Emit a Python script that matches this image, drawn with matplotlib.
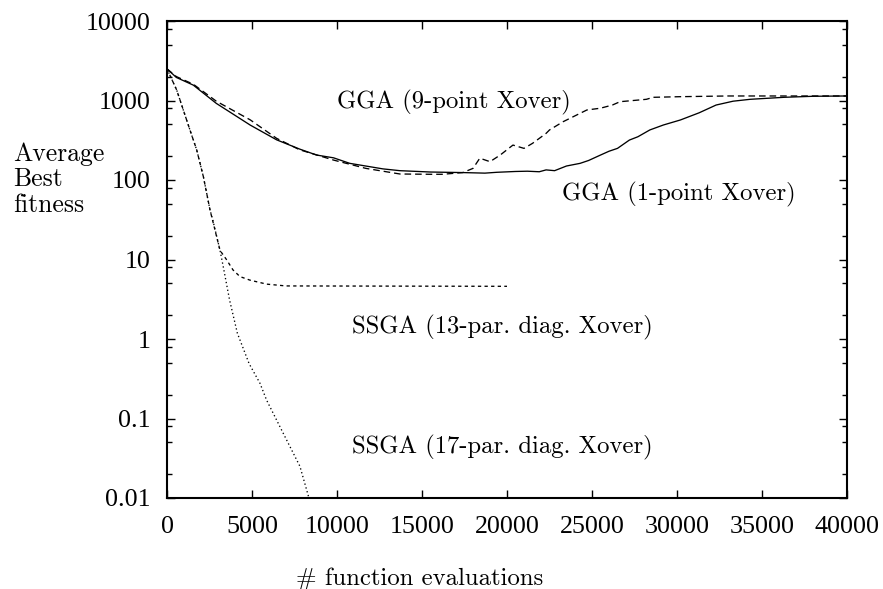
import matplotlib
matplotlib.use('Agg')
import matplotlib.pyplot as plt
import matplotlib.ticker as mticker

# GGA, 1-point crossover (solid)
gga1_x = [0, 550, 1550, 2900, 4900, 6450, 7800, 8800, 9800, 10750, 12700, 13700,
          15500, 17400, 18700, 19400, 20500, 21200, 21900, 22300, 22800, 23500,
          24300, 24800, 25500, 26000, 26500, 27200, 27700, 28400, 29200, 30200,
          31300, 32300, 33300, 34300, 36300, 38000, 40000]
gga1_y = [2500, 1950, 1560, 920, 490, 320, 245, 206, 190, 162, 138, 131,
          126, 124, 122, 125, 128, 129, 127, 134, 131, 150,
          162, 176, 206, 230, 250, 318, 350, 426, 492, 569,
          700, 877, 980, 1035, 1097, 1130, 1140]

# GGA, 9-point crossover (dashed)
gga9_x = [0, 550, 1550, 2900, 4900, 6450, 7800, 9800, 11700, 13700, 15500,
          16200, 17400, 18000, 18400, 19000, 19600, 20350, 21000, 21500,
          22300, 22500, 23300, 24300, 24700, 25500, 26200, 26650, 28200,
          28600, 30200, 33000, 40000]
gga9_y = [2500, 2000, 1600, 980, 570, 334, 240, 178, 140, 119, 118,
          118, 124, 140, 188, 170, 206, 275, 250, 289,
          386, 426, 541, 690, 760, 800, 877, 966, 1035,
          1097, 1117, 1140, 1140]

# SSGA, 13-parent diagonal crossover (short dashes)
ssga13_x = [0, 570, 960, 1350, 1750, 2140, 2530, 3120, 3510, 3880, 4290, 4880,
            5860, 7000, 20000]
ssga13_y = [2500, 1355, 758, 426, 238, 110, 42, 13, 9.9, 7.4, 6.1, 5.5,
            4.9, 4.65, 4.6]

# SSGA, 17-parent diagonal crossover (dotted)
ssga17_x = [0, 570, 960, 1350, 1750, 2140, 2530, 2700, 3120, 3310, 3680,
            4140, 4830, 5470, 5860, 6840, 7820, 8350]
ssga17_y = [2500, 1355, 758, 426, 238, 110, 42, 31, 13, 8.1, 3.1,
            1.18, 0.49, 0.277, 0.17, 0.065, 0.025, 0.01]

xticks = [0, 5000, 10000, 15000, 20000, 25000, 30000, 35000, 40000]
yticks = [0.01, 0.1, 1, 10, 100, 1000, 10000]
ytick_labels = ['0.01', '0.1', '1', '10', '100', '1000', '10000']

tick_font = 'Liberation Serif'
cm_font = 'cmr10'
cm_size = 17.8

fig = plt.figure(figsize=(8.83, 5.89), dpi=100)
ax = fig.add_axes([167 / 883, 91 / 589, 680 / 883, 477 / 589])

ax.plot(gga1_x, gga1_y, color='black', lw=0.95, linestyle='-')
ax.plot(gga9_x, gga9_y, color='black', lw=0.95, linestyle=(0, (5, 3)))
ax.plot(ssga13_x, ssga13_y, color='black', lw=0.95, linestyle=(0, (2.5, 2.5)))
ax.plot(ssga17_x, ssga17_y, color='black', lw=0.95, linestyle=(0, (1, 2)))

ax.set_yscale('log')
ax.set_xlim(0, 40000)
ax.set_ylim(0.01, 10000)

ax.xaxis.set_major_locator(mticker.FixedLocator(xticks))
ax.xaxis.set_major_formatter(mticker.FixedFormatter([str(v) for v in xticks]))
ax.yaxis.set_major_locator(mticker.FixedLocator(yticks))
ax.yaxis.set_major_formatter(mticker.FixedFormatter(ytick_labels))
ax.yaxis.set_minor_locator(mticker.LogLocator(base=10, subs=(2, 5, 8)))
ax.yaxis.set_minor_formatter(mticker.NullFormatter())
ax.xaxis.set_minor_locator(mticker.NullLocator())

ax.tick_params(which='both', direction='in', top=True, right=True,
               width=1.0, labelsize=18.7)
ax.tick_params(which='major', length=6)
ax.tick_params(which='minor', length=3.5)
ax.tick_params(axis='x', pad=13)
ax.tick_params(axis='y', pad=12)
for lab in ax.get_xticklabels() + ax.get_yticklabels():
    lab.set_family(tick_font)
for sp in ax.spines.values():
    sp.set_linewidth(1.5)

# curve labels
ax.text(10000, 798, 'GGA (9-point Xover)', family=cm_font, fontsize=cm_size,
        va='baseline', ha='left')
ax.text(23250, 56, 'GGA (1-point Xover)', family=cm_font, fontsize=cm_size,
        va='baseline', ha='left')
ax.text(10860, 1.18, 'SSGA (13-par. diag. Xover)', family=cm_font,
        fontsize=cm_size, va='baseline', ha='left')
ax.text(10860, 0.0365, 'SSGA (17-par. diag. Xover)', family=cm_font,
        fontsize=cm_size, va='baseline', ha='left')

fig.text(13 / 883, 1 - 142 / 589, 'Average\nBest\nfitness', family=cm_font,
         fontsize=18.5, va='top', ha='left', linespacing=1.1)
fig.text(420 / 883, 1 - 585 / 589, '# function evaluations', family=cm_font,
         fontsize=cm_size, va='baseline', ha='center')

fig.savefig('out.png', dpi=100)
